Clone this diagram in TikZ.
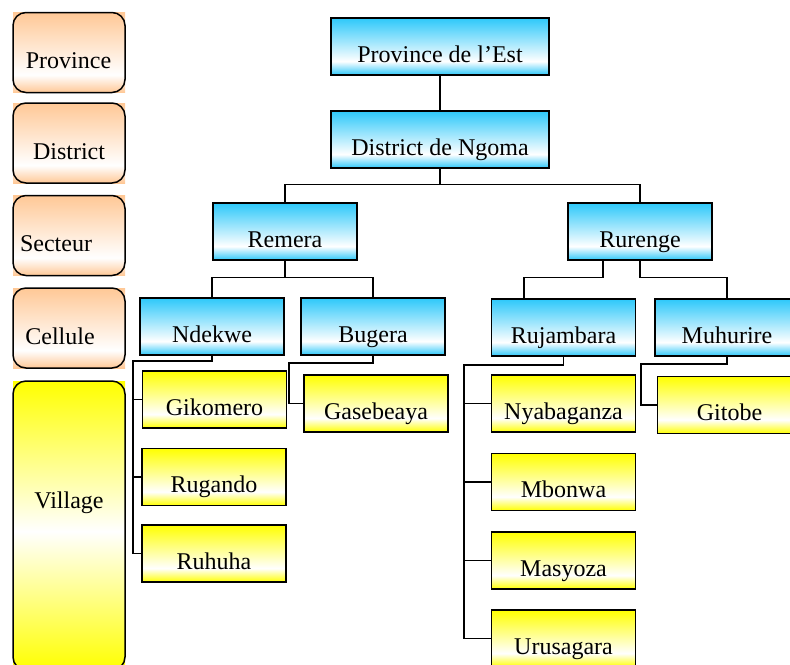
\documentclass[tikz,border=0pt]{standalone}
\usepackage{fontspec}
\setmainfont{Liberation Serif}

\definecolor{boxblue}{RGB}{45,200,250}
\definecolor{boxyellow}{RGB}{255,255,0}
\definecolor{boxorange}{RGB}{255,200,150}
\pgfdeclareverticalshading{blueshade}{100bp}{color(0bp)=(boxblue); color(25bp)=(boxblue); color(37bp)=(white); color(75bp)=(boxblue); color(100bp)=(boxblue)}
\pgfdeclareverticalshading{yellowshade}{100bp}{color(0bp)=(boxyellow); color(25bp)=(boxyellow); color(37bp)=(white); color(75bp)=(boxyellow); color(100bp)=(boxyellow)}
\pgfdeclareverticalshading{orangeshade}{100bp}{color(0bp)=(boxorange); color(25bp)=(boxorange); color(36bp)=(white); color(75bp)=(boxorange); color(100bp)=(boxorange)}
\pgfdeclareverticalshading{villageshade}{100bp}{color(0bp)=(boxyellow); color(25bp)=(boxyellow); color(49bp)=(white); color(75bp)=(boxyellow); color(100bp)=(boxyellow)}

\begin{document}
\begin{tikzpicture}[x=0.5pt, y=-0.5pt, font=\fontsize{12}{14}\selectfont,
  unitbox/.style={draw, line width=0.75pt, minimum width=72pt, inner xsep=0pt, inner ysep=0pt, text height=22pt, text depth=6.5pt},
  bluebox/.style={unitbox, shading=blueshade},
  widebox/.style={bluebox, minimum width=109pt},
  villagebox/.style={unitbox, shading=yellowshade},
  levelbox/.style={draw, line width=0.75pt, rounded corners=6.5pt, minimum width=56pt, minimum height=40pt, inner sep=0pt, shading=orangeshade},
  link/.style={line width=0.7pt}]
  \useasboundingbox (0,0) rectangle (790,664);
  \clip (0,0) rectangle (790,664);

  \foreach \lbl/\cy/\tx in {Province/52.5/68.5, District/143/69, Secteur/235.5/56, Cellule/328/60}{
    \shade[shading=orangeshade] (13,\cy-40) rectangle (125,\cy+40);
    \node[levelbox] (\lbl) at (69,\cy) {};
    \node[anchor=base] (\lbl-t) at (\tx,\cy+16) {\lbl};
  }
  \shade[shading=villageshade] (13,381) rectangle (125,670);
  \node[levelbox, shading=villageshade, minimum height=144.5pt] (Village) at (69,525.5) {};
  \node[anchor=base] (Village-t) at (69,508) {Village};

  \node[widebox] (est) at (440,46.5) {Province de l'Est};
  \node[widebox] (ngoma) at (440,139.5) {District de Ngoma};
  \node[bluebox] (remera) at (285,231.5) {Remera};
  \node[bluebox] (rurenge) at (640,231.5) {Rurenge};
  \node[bluebox] (ndekwe) at (212,326.5) {Ndekwe};
  \node[bluebox] (bugera) at (373,326.5) {Bugera};
  \node[bluebox] (rujambara) at (563.5,327.5) {Rujambara};
  \node[bluebox] (muhurire) at (727,327.5) {Muhurire};

  \node[villagebox] (gikomero) at (214.5,399.5) {Gikomero};
  \node[villagebox] (rugando) at (214,477) {Rugando};
  \node[villagebox] (ruhuha) at (214,553.5) {Ruhuha};
  \node[villagebox] (gasebeaya) at (376,403.5) {Gasebeaya};
  \node[villagebox] (nyabaganza) at (563.5,403.5) {Nyabaganza};
  \node[villagebox] (mbonwa) at (563.5,482) {Mbonwa};
  \node[villagebox] (masyoza) at (563.5,560.5) {Masyoza};
  \node[villagebox] (urusagara) at (563.5,638.5) {Urusagara};
  \node[villagebox] (gitobe) at (729.5,405) {Gitobe};

  \coordinate (trunkA) at (133,361);
  \coordinate (trunkB) at (289,363);
  \coordinate (trunkC) at (464,365);
  \coordinate (trunkD) at (641,364);

  \draw[link] (est) -- (ngoma);
  \draw[link] (ngoma.south) -- ++(0,16) -| (remera.north);
  \draw[link] (ngoma.south) -- ++(0,16) -| (rurenge.north);
  \draw[link] (remera.south) -- ++(0,17) -| (ndekwe.north);
  \draw[link] (remera.south) -- ++(0,17) -| (bugera.north);
  \draw[link] ([xshift=-18.5pt]rurenge.south) -- ++(0,17) -| ([xshift=-19.75pt]rujambara.north);
  \draw[link] (rurenge.south) -- ++(0,17) -| (muhurire.north);

  \draw[link] (ndekwe.south) |- (trunkA) |- (ruhuha.west);
  \foreach \v in {gikomero, rugando}{
    \draw[link] (\v.west) -- (\v.west -| trunkA);
  }
  \draw[link] (bugera.south) |- (trunkB) |- (gasebeaya.west);
  \draw[link] (rujambara.south) |- (trunkC) |- (urusagara.west);
  \foreach \v in {nyabaganza, mbonwa, masyoza}{
    \draw[link] (\v.west) -- (\v.west -| trunkC);
  }
  \draw[link] (muhurire.south) |- (trunkD) |- (gitobe.west);
\end{tikzpicture}
\end{document}
